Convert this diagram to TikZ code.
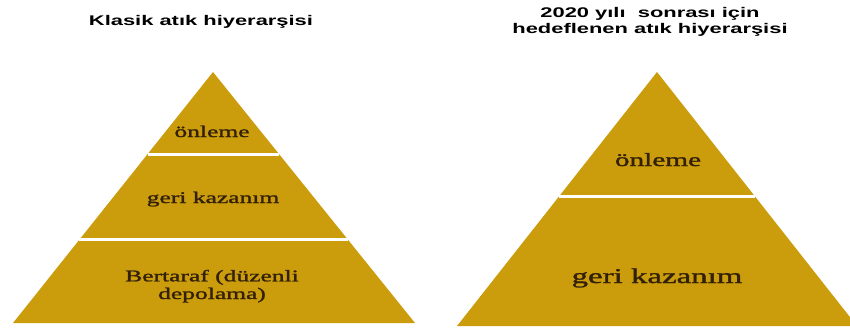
\documentclass[tikz,border=0pt]{standalone}
\usepackage{fontspec}
\setmainfont{Liberation Serif}
\setsansfont{Liberation Sans}
\newfontfamily\levelfont{Liberation Serif}[FakeBold=1.2]
\usepackage{graphicx}
\usetikzlibrary{calc}

\definecolor{gold}{RGB}{203,157,12}
\definecolor{ink}{RGB}{50,32,8}

% letters are set wide
\newcommand{\wide}[1]{\scalebox{1.565}[1]{#1}}
\newcommand{\twolines}[3]{\wide{\renewcommand{\arraystretch}{#1}\begin{tabular}[b]{@{}c@{}}#2\\#3\end{tabular}}}

\tikzset{
  title/.style={anchor=base, inner sep=0pt, font=\sffamily\bfseries\fontsize{14}{16.8}\selectfont},
  level/.style={anchor=base, inner sep=0pt, text=ink},
  cut/.style={white, line width=3pt}
}

\begin{document}
\begin{tikzpicture}[x=1pt, y=-1pt, line join=round]
  \clip (0,0) rectangle (850,327);
  \fill[white] (0,0) rectangle (850,327);

  % classic hierarchy
  \coordinate (lt) at (213,72);
  \coordinate (ll) at (13,323);
  \coordinate (lr) at (415,323);
  \fill[gold] (lt) -- (ll) -- (lr) -- cycle;
  \draw[cut] ($(lt)!0.327!(ll)$) -- ($(lt)!0.327!(lr)$);
  \draw[cut] ($(lt)!0.669!(ll)$) -- ($(lt)!0.669!(lr)$);

  % after 2020
  \coordinate (rt) at (657,72);
  \coordinate (rl) at (457,326);
  \coordinate (rr) at (857,326);
  \fill[gold] (rt) -- (rl) -- (rr) -- cycle;
  \draw[cut] ($(rt)!0.492!(rl)$) -- ($(rt)!0.492!(rr)$);

  \node[title] (ltitle) at (201,25) {\wide{Klasik atık hiyerarşisi}};
  \node[title] (rtitle) at (650,33) {\twolines{0.9}{2020 yılı\ \ sonrası için}{hedeflenen atık hiyerarşisi}};

  \node[level, font=\levelfont\fontsize{16.3}{19}\selectfont] (lonle) at (212,137) {\wide{önleme}};
  \node[level, font=\levelfont\fontsize{16.3}{19}\selectfont] (lgeri) at (213,203) {\wide{geri kazanım}};
  \node[level, font=\levelfont\fontsize{16.3}{19}\selectfont] (lbert) at (212,299) {\twolines{0.93}{Bertaraf (düzenli}{depolama)}};

  \node[level, font=\levelfont\fontsize{18.7}{22}\selectfont] (ronle) at (658,166) {\wide{önleme}};
  \node[level, font=\levelfont\fontsize{21}{25}\selectfont] (rgeri) at (657,283) {\wide{geri kazanım}};
\end{tikzpicture}
\end{document}
